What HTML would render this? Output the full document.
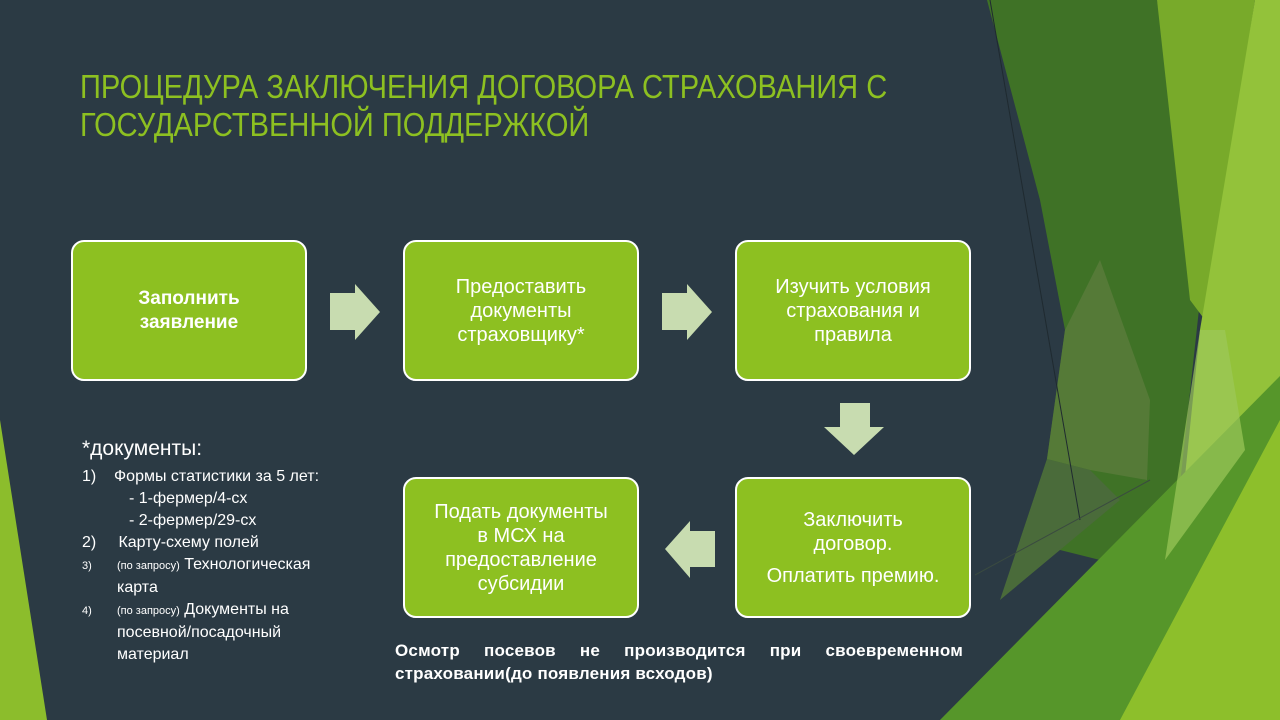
<!DOCTYPE html>
<html><head><meta charset="utf-8"><style>
body{margin:0;width:1280px;height:720px;overflow:hidden;background:#2b3a44;font-family:"Liberation Sans","DejaVu Sans",sans-serif;position:relative}
.box{position:absolute;width:232px;height:137px;background:#8dc021;border:2px solid #fff;border-radius:13px;color:#fff;font-size:20px;display:flex;align-items:center;justify-content:center;text-align:center;line-height:24px;box-sizing:content-box}
.t{position:absolute;color:#fff}
</style></head><body>
<svg width="1280" height="720" style="position:absolute;left:0;top:0">
<polygon points="0,420 47,720 0,720" fill="#8cbd2c"/>
<polygon points="987,0 1157,0 1200,300 1175,530 1100,560 1020,540 1047,459 1065,330 1040,200" fill="#3f7226"/>
<polygon points="1157,0 1255,0 1205,320 1190,300" fill="#78aa2a"/>
<polygon points="1255,0 1280,0 1280,720 1160,720 1200,330" fill="#93c23a"/>
<polygon points="1065,330 1100,260 1150,400 1147,480 1090,470 1047,459" fill="#587b3a" opacity="0.9"/>
<polygon points="940,720 1280,376 1280,720" fill="#56962a"/>
<polygon points="1020,540 1047,459 1090,470 1120,500 1000,600" fill="#4a6b3a"/>
<polygon points="1120,720 1280,420 1280,720" fill="#8dbf2b"/>
<polygon points="1200,330 1225,330 1245,450 1165,560" fill="#9cc75a" opacity="0.7"/>
<line x1="990" y1="0" x2="1080" y2="520" stroke="#1f2a30" stroke-width="1"/>
<line x1="975" y1="575" x2="1150" y2="480" stroke="#3a4a40" stroke-width="1"/>
<g fill="#c8dcb0">
<polygon points="330,293 355,293 355,284 380,312 355,340 355,330 330,330"/>
<polygon points="662,293 687,293 687,284 712,312 687,340 687,330 662,330"/>
<polygon points="840,403 870,403 870,427 884,427 854,455 824,427 840,427"/>
<polygon points="715,531 690,531 690,521 665,549 690,578 690,567 715,567"/>
</g>
</svg>
<div class="t" style="left:80px;top:68px;color:#8dc021;font-size:33px;line-height:38px;transform:scaleX(0.88);transform-origin:0 0;white-space:nowrap">ПРОЦЕДУРА ЗАКЛЮЧЕНИЯ ДОГОВОРА СТРАХОВАНИЯ С<br>ГОСУДАРСТВЕННОЙ ПОДДЕРЖКОЙ</div>
<div class="box" style="left:71px;top:240px;font-weight:bold;font-size:19px">Заполнить<br>заявление</div>
<div class="box" style="left:403px;top:240px">Предоставить<br>документы<br>страховщику*</div>
<div class="box" style="left:735px;top:240px">Изучить условия<br>страхования и<br>правила</div>
<div class="box" style="left:735px;top:477px;flex-direction:column">Заключить<br>договор.<div style="margin-top:8px">Оплатить премию.</div></div>
<div class="box" style="left:403px;top:477px">Подать документы<br>в МСХ на<br>предоставление<br>субсидии</div>
<div class="t" style="left:82px;top:437px;font-size:21px">*документы:</div>
<div class="t" style="left:82px;top:466px;font-size:16px;line-height:22px">
<div>1)&nbsp;&nbsp;&nbsp;&nbsp;Формы статистики за 5 лет:</div>
<div style="padding-left:47px">- 1-фермер/4-сх</div>
<div style="padding-left:47px">- 2-фермер/29-сх</div>
<div>2)&nbsp;&nbsp;&nbsp;&nbsp;&nbsp;Карту-схему полей</div>
<div><span style="font-size:11px">3)</span><span style="position:absolute;left:35px"><span style="font-size:11px">(по запросу)</span> Технологическая</span></div>
<div style="padding-left:35px">карта</div>
<div><span style="font-size:11px">4)</span><span style="position:absolute;left:35px"><span style="font-size:11px">(по запросу)</span> Документы на</span></div>
<div style="padding-left:35px">посевной/посадочный</div>
<div style="padding-left:35px">материал</div>
</div>
<div class="t" style="left:395px;top:639px;width:568px;font-size:17px;font-weight:bold;line-height:23px;letter-spacing:0.2px">
<div style="text-align:justify;text-align-last:justify">Осмотр посевов не производится при своевременном</div>
<div>страховании(до появления всходов)</div>
</div>
</body></html>
